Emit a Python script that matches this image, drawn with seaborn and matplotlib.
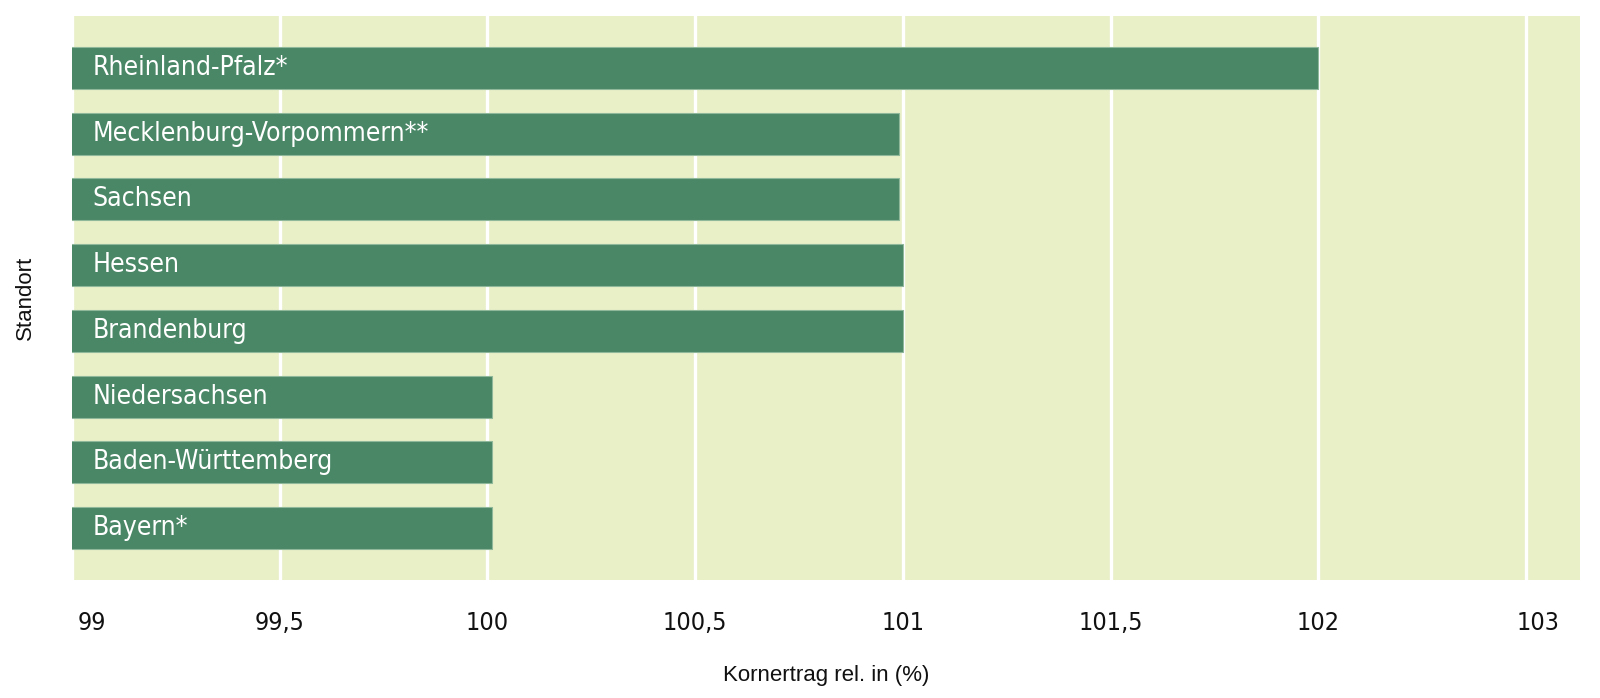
import matplotlib
matplotlib.use('Agg')
import matplotlib.pyplot as plt
import matplotlib.transforms as mtransforms
import seaborn as sns
import pandas as pd

# Werte
standorte = ['Rheinland-Pfalz*', 'Mecklenburg-Vorpommern**', 'Sachsen', 'Hessen',
             'Brandenburg', 'Niedersachsen', 'Baden-Württemberg', 'Bayern*']
kornertrag = [102.0, 100.99, 100.99, 101.0, 101.0, 100.01, 100.01, 100.01]

tick_pos = [99, 99.5, 100, 100.5, 101, 101.5, 102, 102.5]
tick_text = ['99', '99,5', '100', '100,5', '101', '101,5', '102', '103']

df = pd.DataFrame({'Standort': standorte, 'Kornertrag': kornertrag})

sns.set_theme(style='white')
plt.rcParams['font.family'] = ['Liberation Sans', 'DejaVu Sans']

fig = plt.figure(figsize=(16, 6.98), dpi=100)
ax = fig.add_axes([0.045, 0.169, 0.9425, 0.808])
ax.set_facecolor('#e9f0c8')

sns.barplot(data=df, x='Kornertrag', y='Standort', orient='h', color='#4a8766',
            saturation=1, width=0.64, edgecolor='#8fb79a', linewidth=0.8, ax=ax, zorder=3)

ax.set_xlim(99, 102.63)
ax.set_ylim(7.79, -0.79)

# weisse Gitterlinien
ax.set_xticks(tick_pos)
ax.xaxis.grid(True, color='white', linewidth=2.4, zorder=1)
ax.yaxis.grid(False)
ax.set_axisbelow(True)
for s in ax.spines.values():
    s.set_visible(False)

ax.set_yticks([])
ax.set_xticklabels(tick_text, fontsize=18, fontstretch='condensed', family='DejaVu Sans',
                   color='#111111')
ax.tick_params(axis='x', length=0, pad=22)
labels = ax.get_xticklabels()
labels[0].set_ha('left')
labels[0].set_transform(labels[0].get_transform() + mtransforms.ScaledTranslation(0.06, 0, fig.dpi_scale_trans))
labels[-1].set_transform(labels[-1].get_transform() + mtransforms.ScaledTranslation(0.12, 0, fig.dpi_scale_trans))

# Beschriftung in den Balken
for i, name in enumerate(standorte):
    ax.text(99.05, i, name, color='white', va='center', ha='left', fontsize=19,
            family='DejaVu Sans', fontstretch='condensed', zorder=4)

ax.set_xlabel('Kornertrag rel. in (%)', fontsize=16, color='#111111')
ax.xaxis.set_label_coords(0.5, -0.150)
ax.set_ylabel('Standort', fontsize=16, color='#111111')
ax.yaxis.set_label_coords(-0.024, 0.5)

fig.savefig('out.png', dpi=100, facecolor='white')
